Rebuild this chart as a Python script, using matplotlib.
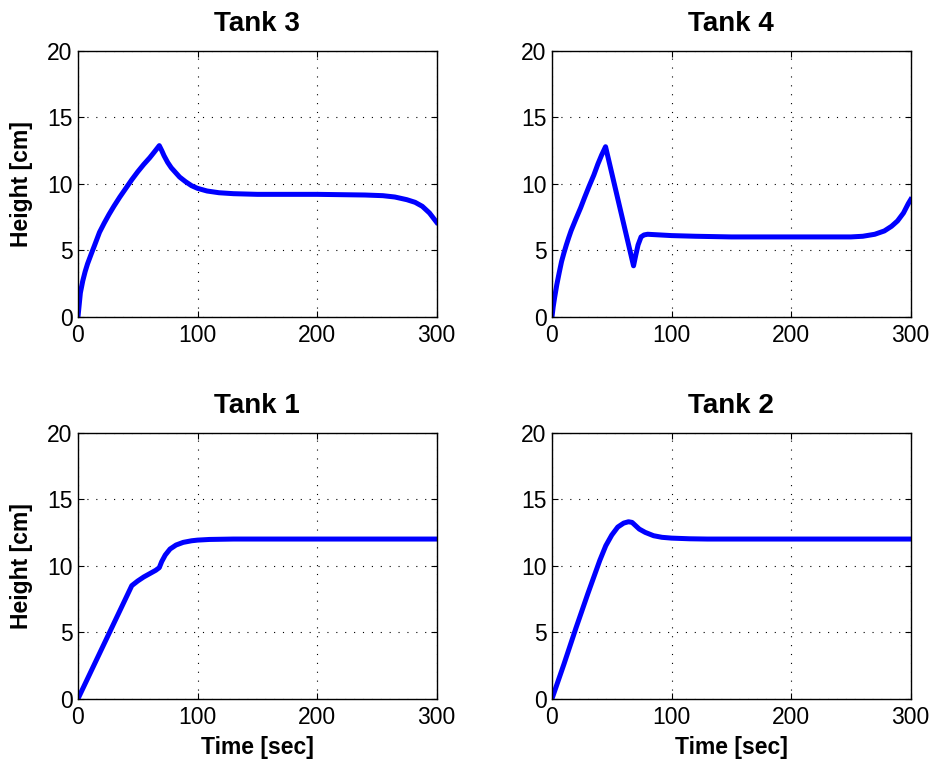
import matplotlib.pyplot as plt

plt.rcParams['font.family'] = ['Liberation Sans', 'DejaVu Sans']

# Tank 3 (top left)
t3 = [0, 2, 4, 6, 8, 11, 14, 18, 22, 26, 30, 35, 40, 45, 50, 55, 60, 64, 68,
      70, 72, 75, 78, 81, 85, 90, 95, 100, 108, 118, 130, 150, 200, 240, 255, 265,
      275, 282, 288, 294, 300]
h3 = [0, 1.8, 2.7, 3.4, 3.98, 4.7, 5.4, 6.35, 7.05, 7.7, 8.3, 9.0, 9.65, 10.3, 10.9,
      11.45, 11.95, 12.4, 12.86, 12.5, 12.1, 11.6, 11.2, 10.9, 10.5, 10.15, 9.85, 9.65,
      9.45, 9.32, 9.25, 9.2, 9.2, 9.15, 9.1, 9.0, 8.8, 8.6, 8.3, 7.8, 7.1]

# Tank 4 (top right)
t4 = [0, 1, 2.2, 4, 6, 8, 10, 12, 14, 16, 20, 24, 27.3, 31, 35, 38.4, 41.5, 44.8,
      68.2, 70, 72, 74.5, 77, 80, 90, 100, 120, 150, 250, 260, 270, 278, 284, 289, 294,
      298, 300]
h4 = [0, 0.75, 1.45, 2.4, 3.3, 4.15, 4.8, 5.4, 5.95, 6.47, 7.35, 8.2, 8.97, 9.8, 10.65,
      11.48, 12.15, 12.78, 3.83, 4.6, 5.4, 6.0, 6.15, 6.2, 6.15, 6.1, 6.05, 6.0, 6.0,
      6.05, 6.2, 6.45, 6.8, 7.2, 7.8, 8.5, 8.8]

# Tank 1 (bottom left)
t1 = [0, 45, 50, 55, 60, 65, 68, 70, 73, 77, 82, 88, 95, 100, 110, 130, 300]
h1 = [0, 8.5, 8.85, 9.15, 9.4, 9.65, 9.85, 10.3, 10.8, 11.25, 11.55, 11.75, 11.87, 11.92,
      11.97, 12.0, 12.0]

# Tank 2 (bottom right)
t2 = [0, 10, 20, 30, 40, 45, 50, 55, 60, 64, 67, 70, 73, 78, 85, 92, 100, 115, 130, 300]
h2 = [0, 2.6, 5.3, 7.9, 10.4, 11.5, 12.3, 12.9, 13.2, 13.3, 13.25, 13.0, 12.75, 12.5,
      12.25, 12.13, 12.07, 12.02, 12.0, 12.0]

panels = [
    ("Tank 3", t3, h3, [0.0835, 0.587, 0.384, 0.347], True, False),
    ("Tank 4", t4, h4, [0.591, 0.587, 0.384, 0.347], False, False),
    ("Tank 1", t1, h1, [0.0835, 0.089, 0.384, 0.347], True, True),
    ("Tank 2", t2, h2, [0.591, 0.089, 0.384, 0.347], False, True),
]

fig = plt.figure(figsize=(9.34, 7.67), dpi=100)

for title, t, h, pos, ylab, xlab in panels:
    ax = fig.add_axes(pos)
    ax.plot(t, h, color='#0000ff', linewidth=3.6, solid_joinstyle='round')
    ax.set_xlim(0, 300)
    ax.set_ylim(0, 20)
    ax.set_xticks([0, 100, 200, 300])
    ax.set_yticks([0, 5, 10, 15, 20])
    ax.grid(True, color='black', linestyle=(0, (1, 7)), linewidth=0.8)
    ax.tick_params(axis='both', direction='in', length=4, labelsize=16.5,
                   top=True, right=True)
    ax.tick_params(axis='x', pad=5)
    ax.tick_params(axis='y', pad=4)
    for s in ax.spines.values():
        s.set_linewidth(1.0)
    ax.set_title(title, fontsize=20, fontweight='bold', pad=14)
    if ylab:
        ax.set_ylabel("Height [cm]", fontsize=16.5, fontweight='bold', labelpad=10)
    if xlab:
        ax.set_xlabel("Time [sec]", fontsize=16.5, fontweight='bold', labelpad=5)

fig.savefig("out.png", dpi=100)
